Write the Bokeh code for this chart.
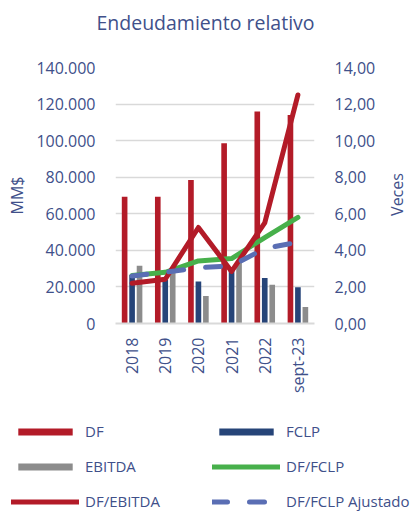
import math
from bokeh.plotting import figure
from bokeh.layouts import column, row
from bokeh.models import (Range1d, LinearAxis, FixedTicker, Legend, LegendItem,
                          FactorRange, ColumnDataSource, Label)
from bokeh.transform import dodge
from bokeh.embed import file_html
from bokeh.resources import INLINE

# ---- data ----
categories = ["2018", "2019", "2020", "2021", "2022", "sept-23"]
df_values = [69300, 69300, 78500, 98600, 115900, 114000]
fclp_values = [26600, 24000, 23000, 29000, 24900, 19800]
ebitda_values = [31600, 28500, 15000, 34500, 21200, 9000]
df_fclp = [2.62, 2.80, 3.42, 3.55, 4.70, 5.80]
df_ebitda = [2.20, 2.42, 5.25, 2.85, 5.50, 12.50]
df_fclp_ajustado = [2.60, 2.80, 3.05, 3.15, 4.10, 4.45]

left_ticks = [0, 20000, 40000, 60000, 80000, 100000, 120000, 140000]
left_labels = ["0", "20.000", "40.000", "60.000", "80.000", "100.000", "120.000", "140.000"]
right_ticks = [0, 2, 4, 6, 8, 10, 12, 14]
right_labels = ["0,00", "2,00", "4,00", "6,00", "8,00", "10,00", "12,00", "14,00"]

title_text = "Endeudamiento relativo"
left_title = "MM$"
right_title = "Veces"
series_names = ["DF", "FCLP", "EBITDA", "DF/FCLP", "DF/EBITDA", "DF/FCLP Ajustado"]

# ---- styles ----
FONT = "Open Sans"
TXT = "#40508A"
RED = "#B31B28"
NAVY = "#264478"
GRAY = "#8C8C8C"
GREEN = "#47B04B"
BLUE = "#5A6EB4"
GRID = "#D9D9D9"
BAR_W = 0.17
OFFS = [-0.225, 0.0, 0.225]
line_kw = dict(line_width=5, line_cap="round", line_join="round")

src = ColumnDataSource(dict(cat=categories, df=df_values, fclp=fclp_values,
                            ebitda=ebitda_values, df_fclp=df_fclp,
                            df_ebitda=df_ebitda, adj=df_fclp_ajustado))


def blank(width, height):
    f = figure(width=width, height=height, output_backend="svg", toolbar_location=None,
               x_range=Range1d(0, 1), y_range=Range1d(0, 1),
               x_axis_type=None, y_axis_type=None,
               min_border_left=0, min_border_right=0, min_border_top=0,
               min_border_bottom=0)
    f.outline_line_color = None
    f.xgrid.grid_line_color = None
    f.ygrid.grid_line_color = None
    f.frame_align = False
    return f


# ---- title strip ----
t = blank(412, 45)
t.add_layout(Label(x=205, y=23, x_units="screen", y_units="screen", text=title_text,
                   text_align="center", text_baseline="middle", text_font=FONT,
                   text_font_size="19.5px", text_color=TXT))

# ---- main chart ----
p = figure(x_range=FactorRange(*categories), y_range=Range1d(0, 140000),
           width=380, height=355, output_backend="svg", toolbar_location=None,
           min_border_left=115, min_border_right=66, min_border_top=22,
           min_border_bottom=77)
p.outline_line_color = None
p.frame_align = False
p.extra_y_ranges = {"ratio": Range1d(0, 14)}

p.xgrid.grid_line_color = None
p.ygrid.ticker = FixedTicker(ticks=left_ticks)
p.ygrid.grid_line_color = GRID
p.ygrid.grid_line_width = 1.5

ya = p.yaxis[0]
ya.ticker = FixedTicker(ticks=left_ticks)
ya.major_label_overrides = dict(zip(left_ticks, left_labels))
ya.axis_line_color = None
ya.major_tick_line_color = None
ya.minor_tick_line_color = None
ya.major_tick_out = 0
ya.major_label_standoff = 20
ya.major_label_text_font = FONT
ya.major_label_text_font_size = "16px"
ya.major_label_text_color = TXT
ya.axis_label = left_title
ya.axis_label_text_font = FONT
ya.axis_label_text_font_size = "16px"
ya.axis_label_text_font_style = "normal"
ya.axis_label_text_color = TXT
ya.axis_label_standoff = 5

ra = LinearAxis(y_range_name="ratio", ticker=FixedTicker(ticks=right_ticks),
                major_label_overrides=dict(zip(right_ticks, right_labels)))
ra.axis_line_color = None
ra.major_tick_line_color = None
ra.minor_tick_line_color = None
ra.major_tick_out = 0
ra.major_label_standoff = 20
ra.major_label_text_font = FONT
ra.major_label_text_font_size = "16px"
ra.major_label_text_color = TXT
p.add_layout(ra, "right")

xa = p.xaxis[0]
xa.axis_line_color = GRID
xa.axis_line_width = 2
xa.major_tick_line_color = None
xa.minor_tick_line_color = None
xa.major_tick_out = 0
xa.major_label_orientation = math.pi / 2
xa.major_label_standoff = 14
xa.major_label_text_font = FONT
xa.major_label_text_font_size = "16px"
xa.major_label_text_color = TXT

p.vbar(x=dodge("cat", OFFS[0], range=p.x_range), top="df", width=BAR_W,
       source=src, fill_color=RED, line_color=None)
p.vbar(x=dodge("cat", OFFS[1], range=p.x_range), top="fclp", width=BAR_W,
       source=src, fill_color=NAVY, line_color=None)
p.vbar(x=dodge("cat", OFFS[2], range=p.x_range), top="ebitda", width=BAR_W,
       source=src, fill_color=GRAY, line_color=None)
p.line(x="cat", y="df_fclp", y_range_name="ratio", source=src, line_color=GREEN, **line_kw)
p.line(x="cat", y="df_ebitda", y_range_name="ratio", source=src, line_color=RED, **line_kw)
p.line(x="cat", y="adj", y_range_name="ratio", source=src, line_color=BLUE,
       line_dash="15 22", **line_kw)

# ---- right axis title strip ----
v = blank(32, 355)
v.add_layout(Label(x=16, y=206, x_units="screen", y_units="screen", text=right_title,
                   angle=math.pi / 2, text_align="center", text_baseline="middle",
                   text_font=FONT, text_font_size="16px", text_color=TXT))

# ---- legend strip (same series styles; its marks fall outside its 0..1 view) ----
q = blank(412, 112)
l_df = q.vbar(x="df_ebitda", top="df", width=BAR_W, source=src, fill_color=RED, line_color=None)
l_fclp = q.vbar(x="df_ebitda", top="fclp", width=BAR_W, source=src, fill_color=NAVY, line_color=None)
l_eb = q.vbar(x="df_ebitda", top="ebitda", width=BAR_W, source=src, fill_color=GRAY, line_color=None)
l_g = q.line(x="df_ebitda", y="df_fclp", source=src, line_color=GREEN, **line_kw)
l_r = q.line(x="df_ebitda", y="df_ebitda", source=src, line_color=RED, **line_kw)
l_b = q.line(x="df_ebitda", y="adj", source=src, line_color=BLUE, line_dash="15 22", **line_kw)

legend = Legend(items=[
    LegendItem(label=series_names[0], renderers=[l_df]),
    LegendItem(label=series_names[1], renderers=[l_fclp]),
    LegendItem(label=series_names[2], renderers=[l_eb]),
    LegendItem(label=series_names[3], renderers=[l_g]),
    LegendItem(label=series_names[4], renderers=[l_r]),
    LegendItem(label=series_names[5], renderers=[l_b]),
], location=(11, 0), orientation="horizontal", ncols=2)
legend.border_line_color = None
legend.background_fill_alpha = 0
legend.padding = 0
legend.margin = 0
legend.spacing = 13
legend.glyph_width = 68
legend.glyph_height = 9
legend.label_height = 22
legend.label_width = 114
legend.label_standoff = 6
legend.label_text_font = FONT
legend.label_text_font_size = "15px"
legend.label_text_color = TXT
legend.label_text_baseline = "middle"
q.add_layout(legend)

page = column(t, row(p, v, spacing=0), q, spacing=0)
open("out.html", "w").write(file_html(page, INLINE))
